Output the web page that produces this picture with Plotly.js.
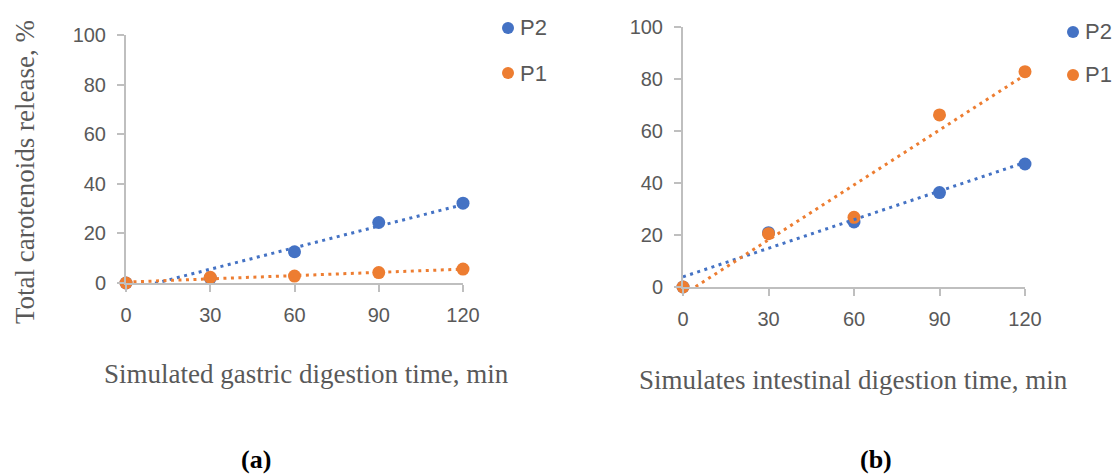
<!DOCTYPE html>
<html>
<head>
<meta charset="utf-8">
<script src="https://cdn.plot.ly/plotly-3.0.1.min.js"></script>
<style>html,body{margin:0;padding:0;background:#fff;}#chart{width:1113px;height:474px;}</style>
</head>
<body>
<div id="chart"></div>
<script>
// ---- data ----
const timeMin = [0, 30, 60, 90, 120];
const seriesNames = ["P2", "P1"];
const gastricP2 = [0, 2.0, 12.6, 24.4, 32.2];
const gastricP1 = [0, 2.3, 2.8, 4.2, 5.6];
const intestinalP2 = [0, 20.9, 25.0, 36.3, 47.3];
const intestinalP1 = [0, 20.5, 26.8, 66.2, 82.8];
const errGastricP2 = [0.3, 0.5, 1.2, 1.2, 1.0];
const errGastricP1 = [0.3, 0.5, 0.6, 1.0, 1.0];
const errIntestinalP2 = [0.3, 1.0, 1.2, 1.0, 1.0];
const errIntestinalP1 = [0.3, 1.0, 1.0, 1.2, 1.0];
const yTicks = [0, 20, 40, 60, 80, 100];
const xTitleA = "Simulated gastric digestion time, min";
const xTitleB = "Simulates intestinal digestion time, min";
const yTitle = "Total carotenoids release, %";
const panelLabels = ["(a)", "(b)"];

const BLUE = "#4472C4", ORANGE = "#ED7D31", GREY = "#595959", AXIS = "#BFBFBF";
const W = 1113, H = 474;
const px = v => v / W, py = v => 1 - v / H;

function linFit(xs, ys) {
  const n = xs.length;
  const mx = xs.reduce((a, b) => a + b, 0) / n;
  const my = ys.reduce((a, b) => a + b, 0) / n;
  let sxy = 0, sxx = 0;
  for (let i = 0; i < n; i++) { sxy += (xs[i] - mx) * (ys[i] - my); sxx += (xs[i] - mx) ** 2; }
  const b = sxy / sxx, a = my - b * mx;
  const ex = [xs[0], xs[n - 1]];
  return { x: ex, y: ex.map(v => a + b * v) };
}

function markerTrace(y, err, color, xa, ya) {
  return {
    x: timeMin, y: y, xaxis: xa, yaxis: ya, type: "scatter", mode: "markers",
    marker: { color: color, size: 13 }, cliponaxis: false, showlegend: false,
    error_y: { type: "data", array: err, color: "#333333", thickness: 1.5, width: 3 }
  };
}
function trendTrace(y, color, xa, ya) {
  const f = linFit(timeMin, y);
  return {
    x: f.x, y: f.y, xaxis: xa, yaxis: ya, type: "scatter", mode: "lines",
    line: { color: color, width: 3, dash: "3px,4.5px" }, showlegend: false, hoverinfo: "skip"
  };
}

const data = [
  markerTrace(gastricP2, errGastricP2, BLUE, "x", "y"),
  markerTrace(gastricP1, errGastricP1, ORANGE, "x", "y"),
  trendTrace(gastricP2, BLUE, "x", "y"),
  trendTrace(gastricP1, ORANGE, "x", "y"),
  markerTrace(intestinalP2, errIntestinalP2, BLUE, "x2", "y2"),
  markerTrace(intestinalP1, errIntestinalP1, ORANGE, "x2", "y2"),
  trendTrace(intestinalP2, BLUE, "x2", "y2"),
  trendTrace(intestinalP1, ORANGE, "x2", "y2")
];

const tickFont = { family: "Liberation Sans, Arial, sans-serif", size: 20, color: GREY };
function xAxis(domain, anchor) {
  return {
    domain: domain, anchor: anchor, range: [0, 120], tickvals: timeMin, ticktext: timeMin.map(String),
    showgrid: false, zeroline: false, showline: true, linecolor: AXIS, linewidth: 2,
    ticks: "outside", ticklen: 7, tickwidth: 2, tickcolor: AXIS, tickfont: tickFont,
    ticklabelstandoff: 6, fixedrange: true
  };
}
function yAxis(domain, anchor) {
  return {
    domain: domain, anchor: anchor, range: [0, 100], tickvals: yTicks, ticktext: yTicks.map(String),
    showgrid: false, zeroline: false, showline: true, linecolor: AXIS, linewidth: 2,
    ticks: "outside", ticklen: 7, tickwidth: 2, tickcolor: AXIS, tickfont: tickFont,
    ticklabelstandoff: 7, fixedrange: true
  };
}

const serif = "Liberation Serif, Times New Roman, serif";
const annotations = [
  { text: xTitleA, x: px(306.5), y: py(374), xref: "paper", yref: "paper", showarrow: false,
    xanchor: "center", yanchor: "middle", font: { family: serif, size: 27, color: GREY } },
  { text: xTitleB, x: px(853.5), y: py(380), xref: "paper", yref: "paper", showarrow: false,
    xanchor: "center", yanchor: "middle", font: { family: serif, size: 27, color: GREY } },
  { text: yTitle, x: px(25), y: py(172), xref: "paper", yref: "paper", showarrow: false, textangle: -90,
    xanchor: "center", yanchor: "middle", font: { family: serif, size: 27, color: GREY } },
  { text: "<b>" + panelLabels[0] + "</b>", x: px(256), y: py(459), xref: "paper", yref: "paper", showarrow: false,
    xanchor: "center", yanchor: "middle", font: { family: serif, size: 26, color: "#000" } },
  { text: "<b>" + panelLabels[1] + "</b>", x: px(876), y: py(459), xref: "paper", yref: "paper", showarrow: false,
    xanchor: "center", yanchor: "middle", font: { family: serif, size: 26, color: "#000" } }
];

// legend entries (one per panel)
const legendPos = [
  { mx: 508, tx: 518, ys: [28, 73] },
  { mx: 1073, tx: 1083, ys: [32, 75] }
];
const legendColors = [BLUE, ORANGE];
const shapes = [];
legendPos.forEach(lp => {
  seriesNames.forEach((name, i) => {
    const r = 6;
    shapes.push({ type: "circle", xref: "paper", yref: "paper",
      x0: px(lp.mx - r), x1: px(lp.mx + r), y0: py(lp.ys[i] + r), y1: py(lp.ys[i] - r),
      fillcolor: legendColors[i], line: { width: 0 } });
    annotations.push({ text: name, x: px(lp.tx), y: py(lp.ys[i]), xref: "paper", yref: "paper",
      showarrow: false, xanchor: "left", yanchor: "middle",
      font: { family: "Liberation Sans, Arial, sans-serif", size: 22, color: GREY } });
  });
});

const layout = {
  width: W, height: H, margin: { l: 0, r: 0, t: 0, b: 0 },
  paper_bgcolor: "#fff", plot_bgcolor: "#fff", showlegend: false,
  xaxis: xAxis([px(126), px(463)], "y"),
  yaxis: yAxis([py(283), py(35)], "x"),
  xaxis2: xAxis([px(683), px(1025)], "y2"),
  yaxis2: yAxis([py(287), py(27)], "x2"),
  annotations: annotations, shapes: shapes
};

Plotly.newPlot("chart", data, layout, { displayModeBar: false, staticPlot: true });
</script>
</body>
</html>
